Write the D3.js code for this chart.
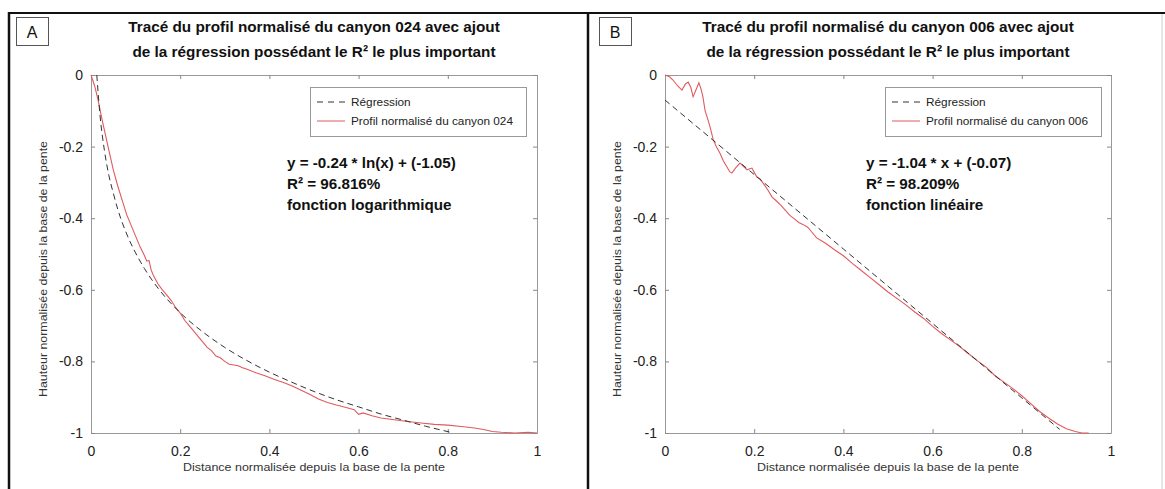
<!DOCTYPE html>
<html><head><meta charset="utf-8">
<script src="https://cdn.jsdelivr.net/npm/d3@7"></script>
<style>body{margin:0;background:#fff}svg{display:block;font-family:"Liberation Sans",Arial,sans-serif}</style>
</head><body><svg id="c" width="1165" height="489"></svg>
<script>
// ---- data ----
const xTicks = [0, 0.2, 0.4, 0.6, 0.8, 1];
const yTicks = [0, -0.2, -0.4, -0.6, -0.8, -1];
const xTickLabels = ["0", "0.2", "0.4", "0.6", "0.8", "1"];
const yTickLabels = ["0", "-0.2", "-0.4", "-0.6", "-0.8", "-1"];

const regA_x = [0.013,0.02,0.03,0.04,0.05,0.06,0.08,0.10,0.12,0.15,0.20,0.25,0.30,0.35,0.40,0.45,0.50,0.55,0.60,0.65,0.70,0.75,0.81];
const regA_y = [0,-0.11,-0.21,-0.28,-0.33,-0.375,-0.444,-0.497,-0.541,-0.595,-0.664,-0.717,-0.761,-0.798,-0.830,-0.858,-0.884,-0.907,-0.927,-0.947,-0.964,-0.981,-0.999];
const profA_x = [0,0.008,0.016,0.024,0.032,0.04,0.05,0.06,0.07,0.08,0.09,0.10,0.11,0.12,0.125,0.13,0.135,0.14,0.15,0.16,0.17,0.18,0.19,0.20,0.21,0.22,0.23,0.24,0.25,0.26,0.27,0.28,0.29,0.30,0.31,0.32,0.33,0.34,0.35,0.37,0.39,0.41,0.43,0.45,0.47,0.49,0.51,0.53,0.55,0.57,0.59,0.60,0.61,0.63,0.65,0.68,0.71,0.74,0.77,0.80,0.83,0.86,0.88,0.90,0.92,0.95,0.98,1.0];
const profA_y = [0,-0.03,-0.07,-0.12,-0.165,-0.21,-0.265,-0.31,-0.35,-0.39,-0.42,-0.45,-0.48,-0.505,-0.52,-0.518,-0.545,-0.56,-0.583,-0.60,-0.615,-0.63,-0.65,-0.665,-0.685,-0.70,-0.715,-0.73,-0.745,-0.76,-0.77,-0.785,-0.79,-0.80,-0.808,-0.81,-0.812,-0.818,-0.822,-0.832,-0.84,-0.85,-0.858,-0.868,-0.88,-0.892,-0.905,-0.915,-0.922,-0.928,-0.935,-0.948,-0.944,-0.952,-0.958,-0.963,-0.968,-0.972,-0.976,-0.978,-0.982,-0.986,-0.99,-0.996,-0.998,-1.0,-0.998,-1.0];

const regB_x = [0, 0.2, 0.4, 0.6, 0.8, 0.885];
const regB_y = [-0.07, -0.278, -0.486, -0.694, -0.902, -0.99];
const profB_x = [0,0.01,0.018,0.028,0.038,0.046,0.052,0.058,0.063,0.07,0.076,0.081,0.085,0.09,0.095,0.101,0.108,0.115,0.123,0.131,0.139,0.145,0.150,0.158,0.168,0.176,0.184,0.19,0.195,0.2,0.206,0.213,0.22,0.23,0.24,0.25,0.26,0.27,0.28,0.29,0.30,0.31,0.32,0.33,0.34,0.36,0.38,0.40,0.42,0.44,0.46,0.48,0.50,0.52,0.54,0.56,0.58,0.60,0.62,0.64,0.66,0.68,0.70,0.72,0.74,0.76,0.78,0.80,0.82,0.84,0.86,0.88,0.90,0.92,0.935,0.95];
const profB_y = [0,-0.005,-0.014,-0.03,-0.042,-0.025,-0.02,-0.035,-0.061,-0.04,-0.022,-0.04,-0.061,-0.1,-0.12,-0.145,-0.18,-0.2,-0.218,-0.24,-0.257,-0.27,-0.274,-0.26,-0.246,-0.255,-0.265,-0.262,-0.26,-0.272,-0.285,-0.29,-0.302,-0.32,-0.341,-0.352,-0.364,-0.378,-0.392,-0.402,-0.412,-0.418,-0.425,-0.44,-0.455,-0.47,-0.488,-0.505,-0.526,-0.546,-0.566,-0.586,-0.606,-0.624,-0.642,-0.662,-0.68,-0.702,-0.722,-0.74,-0.758,-0.778,-0.798,-0.816,-0.84,-0.858,-0.876,-0.896,-0.918,-0.94,-0.958,-0.975,-0.988,-0.996,-1.0,-1.0];

const panels = [
  {letter:"A", left:91, canyon:"024", regX:regA_x, regY:regA_y, profX:profA_x, profY:profA_y,
   eq:["y = -0.24 * ln(x) + (-1.05)","R² = 96.816%","fonction logarithmique"], eqX:287, legX:310},
  {letter:"B", left:665, canyon:"006", regX:regB_x, regY:regB_y, profX:profB_x, profY:profB_y,
   eq:["y = -1.04 * x + (-0.07)","R² = 98.209%","fonction linéaire"], eqX:866, legX:885}
];

const svg = d3.select("#c");
const PW = 446, PT = 75, PH = 358;
const RED = "#e05a5e";

// frame
svg.append("line").attr("x1",9).attr("x2",1165).attr("y1",13).attr("y2",13).attr("stroke","#111").attr("stroke-width",2);
svg.append("line").attr("x1",9).attr("x2",9).attr("y1",12).attr("y2",489).attr("stroke","#111").attr("stroke-width",2.5);
svg.append("line").attr("x1",588).attr("x2",588).attr("y1",12).attr("y2",489).attr("stroke","#111").attr("stroke-width",2.5);
svg.append("line").attr("x1",1162).attr("x2",1162).attr("y1",14).attr("y2",489).attr("stroke","#ccc").attr("stroke-width",1);

panels.forEach((p,i) => {
  const g = svg.append("g");
  const x = d3.scaleLinear().domain([0,1]).range([p.left, p.left+PW]);
  const y = d3.scaleLinear().domain([-1,0]).range([PT+PH, PT]);
  const boxL = i===0 ? 16 : 599;
  g.append("rect").attr("x",boxL+0.5).attr("y",17.5).attr("width",32).attr("height",28).attr("fill","#fff").attr("stroke","#555");
  g.append("text").attr("x",boxL+16).attr("y",37.5).attr("text-anchor","middle").attr("font-size",16).attr("fill","#111").text(p.letter);

  const cx = p.left + PW/2;
  const t = g.append("text").attr("text-anchor","middle").attr("font-weight","bold").attr("font-size",15.3).attr("fill","#111");
  t.append("tspan").attr("x",cx).attr("y",32).text(`Tracé du profil normalisé du canyon ${p.canyon} avec ajout`);
  t.append("tspan").attr("x",cx).attr("y",57).text("de la régression possédant le R² le plus important");

  const ax = g.append("g").attr("transform",`translate(0,${PT+PH})`).call(
    d3.axisBottom(x).tickValues(xTicks).tickFormat((d,k)=>xTickLabels[k]).tickSizeInner(-4).tickSizeOuter(0).tickPadding(13));
  const axT = g.append("g").attr("transform",`translate(0,${PT})`).call(
    d3.axisTop(x).tickValues(xTicks).tickFormat("").tickSizeInner(-4).tickSizeOuter(0));
  const ay = g.append("g").attr("transform",`translate(${p.left},0)`).call(
    d3.axisLeft(y).tickValues(yTicks).tickFormat((d,k)=>yTickLabels[k]).tickSizeInner(-4).tickSizeOuter(0).tickPadding(8));
  const ayR = g.append("g").attr("transform",`translate(${p.left+PW},0)`).call(
    d3.axisRight(y).tickValues(yTicks).tickFormat("").tickSizeInner(-4).tickSizeOuter(0));
  [ax,axT,ay,ayR].forEach(a=>{
    a.selectAll(".domain").attr("stroke","#999");
    a.selectAll(".tick line").attr("stroke","#888");
    a.selectAll("text").attr("font-size",14).attr("fill","#222").attr("font-family","Liberation Sans, Arial, sans-serif");
  });

  g.append("text").attr("x",cx).attr("y",471).attr("text-anchor","middle").attr("font-size",10)
    .attr("textLength",262).attr("lengthAdjust","spacingAndGlyphs").attr("fill","#333").text("Distance normalisée depuis la base de la pente");
  g.append("text").attr("transform",`translate(${p.left-44},${PT+PH/2+15}) rotate(-90)`).attr("text-anchor","middle").attr("font-size",10)
    .attr("textLength",256).attr("lengthAdjust","spacingAndGlyphs").attr("fill","#333").text("Hauteur normalisée depuis la base de la pente");

  const line = d3.line().x(d=>x(d[0])).y(d=>y(d[1]));
  const prof = p.profX.map((v,k)=>[v,p.profY[k]]);
  const reg = p.regX.map((v,k)=>[v,p.regY[k]]);
  g.append("path").attr("d",line(prof)).attr("fill","none").attr("stroke",RED).attr("stroke-width",1.1);
  g.append("path").attr("d",d3.line().curve(d3.curveMonotoneX).x(d=>x(d[0])).y(d=>y(d[1]))(reg))
    .attr("fill","none").attr("stroke","#333").attr("stroke-width",1).attr("stroke-dasharray","6,4");

  const lx = p.legX, ly = 87;
  g.append("rect").attr("x",lx+0.5).attr("y",ly+0.5).attr("width",216).attr("height",49).attr("fill","#fff").attr("stroke","#999");
  g.append("line").attr("x1",lx+7).attr("x2",lx+35).attr("y1",ly+15).attr("y2",ly+15).attr("stroke","#333").attr("stroke-dasharray","6,5");
  g.append("line").attr("x1",lx+7).attr("x2",lx+35).attr("y1",ly+34).attr("y2",ly+34).attr("stroke",RED);
  g.append("text").attr("x",lx+41).attr("y",ly+19).attr("font-size",11.8).attr("fill","#222").text("Régression");
  g.append("text").attr("x",lx+41).attr("y",ly+38).attr("font-size",11.8).attr("fill","#222").text(`Profil normalisé du canyon ${p.canyon}`);

  const e = g.append("text").attr("font-weight","bold").attr("font-size",15.2).attr("fill","#111");
  p.eq.forEach((s,k)=> e.append("tspan").attr("x",p.eqX).attr("y",168+k*21).text(s));
});
</script></body></html>
